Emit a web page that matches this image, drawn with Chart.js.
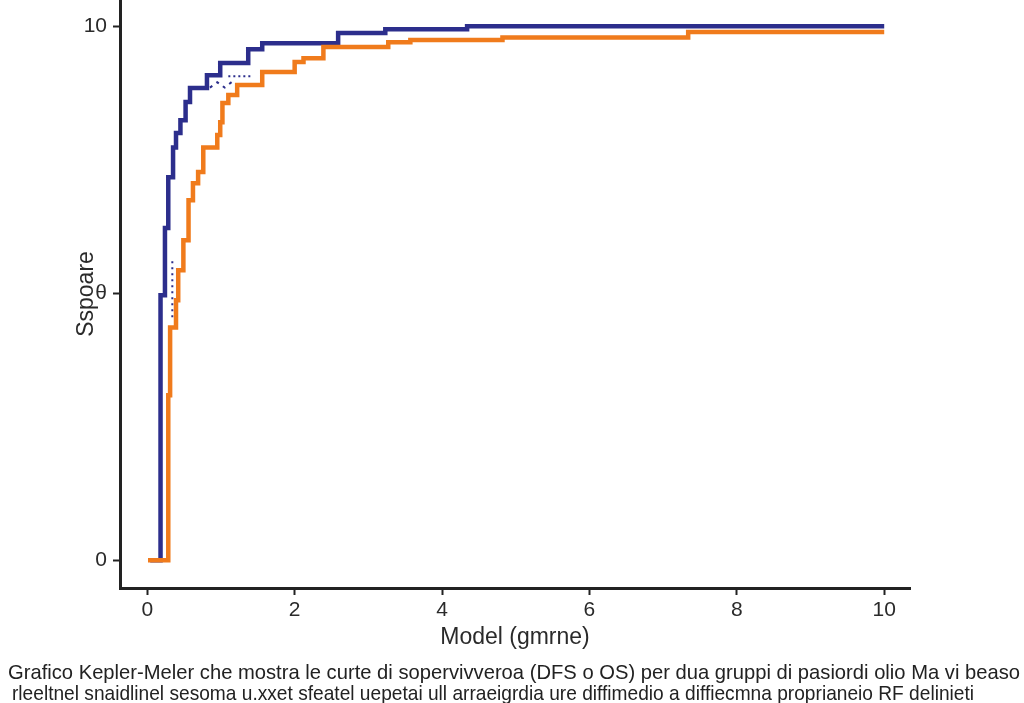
<!DOCTYPE html>
<html>
<head>
<meta charset="utf-8">
<script src="https://cdn.jsdelivr.net/npm/chart.js@4"></script>
<style>
  body { margin: 0; background: #fff; }
  #wrap { position: relative; width: 1024px; height: 703px; }
</style>
</head>
<body>
<div id="wrap"><canvas id="km"></canvas></div>
<script>
// step points: at x the curve jumps to y
const blueX = [0.04, 0.18, 0.24, 0.285, 0.35, 0.39, 0.45, 0.52, 0.58, 0.81, 0.99, 1.37, 1.56, 2.59, 3.23, 4.34, 10.0];
const blueY = [0, 4.96, 6.22, 7.17, 7.73, 8.0, 8.24, 8.58, 8.84, 9.08, 9.31, 9.57, 9.68, 9.87, 9.94, 10.0, 10.0];

const orangeX = [0.01, 0.285, 0.31, 0.39, 0.42, 0.49, 0.56, 0.62, 0.69, 0.76, 0.95, 0.99, 1.02, 1.10, 1.22, 1.56, 2.0, 2.12, 2.39, 3.27, 3.57, 4.82, 7.34, 10.0];
const orangeY = [0, 3.09, 4.36, 4.87, 5.43, 5.99, 6.74, 7.06, 7.27, 7.73, 7.96, 8.2, 8.56, 8.71, 8.9, 9.14, 9.33, 9.4, 9.61, 9.7, 9.74, 9.79, 9.89, 9.89];

// small dotted marks
const dotVX = [0.34, 0.34];
const dotVY = [4.55, 5.67];
const dotHX = [1.10, 1.42];
const dotHY = [9.06, 9.06];
const dotJX = [0.85, 0.95, 1.05, 1.17];
const dotJY = [8.85, 8.95, 8.85, 8.98];

const xTicks = [0, 2, 4, 6, 8, 10];
const yTicks = [0, 5, 10];
const yTickLabels = { 0: "0", 5: "θ", 10: "10" };

const caption1 = "Grafico Kepler-Meler che mostra le curte di sopervivveroa (DFS o OS) per dua gruppi di pasiordi olio Ma vi beaso";
const caption2 = "rleeltnel snaidlinel sesoma u.xxet sfeatel uepetai ull arraeigrdia ure diffimedio a diffiecmna proprianeio RF delinieti";

function pts(xs, ys) {
  return xs.map((x, i) => ({ x: x, y: ys[i] }));
}

const navy = "#2c2e8c";
const orange = "#f07b1c";
const ink = "#222222";

const captionPlugin = {
  id: "caption",
  afterDraw(chart) {
    const ctx = chart.ctx;
    ctx.save();
    ctx.fillStyle = ink;
    ctx.textAlign = "left";
    ctx.textBaseline = "alphabetic";
    ctx.font = "21px 'Liberation Sans Narrow', 'Liberation Sans', Arial, sans-serif";
    ctx.fillText(caption1, 8, 679, 1012);
    ctx.fillText(caption2, 12, 700, 962);
    ctx.restore();
  }
};

new Chart(document.getElementById("km"), {
  type: "line",
  data: {
    datasets: [
      { label: "A", data: pts(blueX, blueY), borderColor: navy, borderWidth: 4.5, stepped: "before", pointRadius: 0, fill: false, order: 2 },
      { label: "B", data: pts(orangeX, orangeY), borderColor: orange, borderWidth: 4.5, stepped: "before", pointRadius: 0, fill: false, order: 1 },
      { label: "c1", data: pts(dotVX, dotVY), borderColor: navy, borderWidth: 2, borderDash: [2, 4], pointRadius: 0, fill: false, order: 3 },
      { label: "c2", data: pts(dotHX, dotHY), borderColor: navy, borderWidth: 2, borderDash: [2, 3], pointRadius: 0, fill: false, order: 3 },
      { label: "c3", data: pts(dotJX, dotJY), borderColor: navy, borderWidth: 2, borderDash: [3, 5], pointRadius: 0, fill: false, order: 3 }
    ]
  },
  options: {
    responsive: true,
    maintainAspectRatio: false,
    animation: false,
    layout: { padding: { left: 0, right: 114, top: 0, bottom: 45 } },
    plugins: { legend: { display: false }, tooltip: { enabled: false } },
    scales: {
      x: {
        type: "linear",
        min: -0.37,
        max: 10.35,
        afterBuildTicks: s => { s.ticks = xTicks.map(v => ({ value: v })); },
        afterFit: s => { s.height = 70; s.paddingLeft = 0; s.paddingRight = 0; },
        grid: { display: true, drawOnChartArea: false, drawTicks: true, tickLength: 7, tickWidth: 2, tickColor: ink },
        border: { display: true, width: 3, color: ink },
        ticks: { color: "#2a2a2a", font: { family: "Liberation Sans, Arial", size: 21 }, padding: 3, maxRotation: 0 },
        title: { display: true, text: "Model (gmrne)", color: "#2a2a2a", font: { family: "Liberation Sans, Arial", size: 23 }, padding: { top: 0, bottom: 7 } }
      },
      y: {
        type: "linear",
        min: -0.52,
        max: 10.49,
        afterBuildTicks: s => { s.ticks = yTicks.map(v => ({ value: v })); },
        afterFit: s => { s.width = 120; s.paddingTop = 0; s.paddingBottom = 0; },
        grid: { display: true, drawOnChartArea: false, drawTicks: true, tickLength: 7, tickWidth: 2, tickColor: ink },
        border: { display: true, width: 3, color: ink },
        ticks: { color: "#2a2a2a", font: { family: "Liberation Sans, Arial", size: 21 }, padding: 6, callback: v => yTickLabels[v] },
        title: { display: true, text: "Sspoare", color: "#2a2a2a", font: { family: "Liberation Sans, Arial", size: 23 }, padding: { top: 73, bottom: 0 } }
      }
    }
  },
  plugins: [captionPlugin]
});
</script>
</body>
</html>
